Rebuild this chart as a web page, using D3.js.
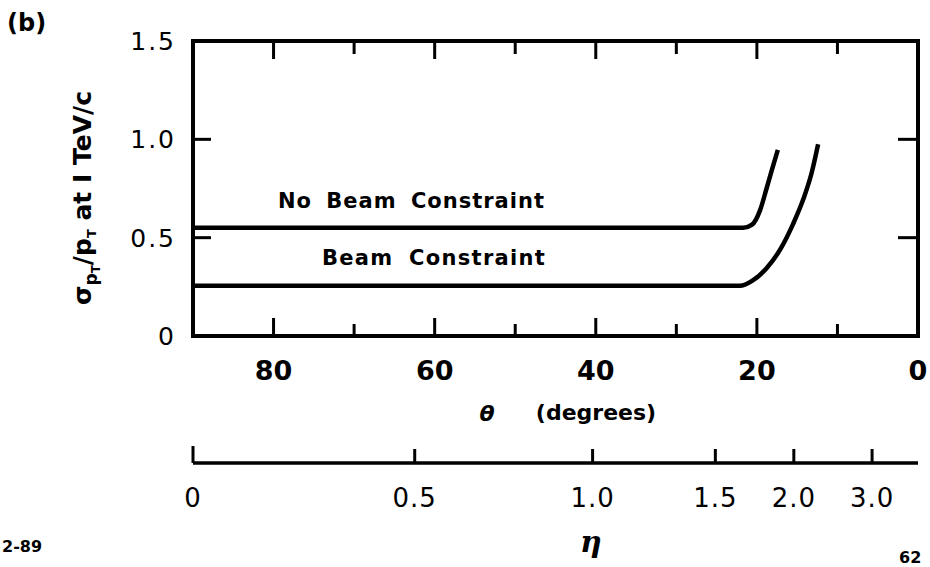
<!DOCTYPE html>
<html>
<head>
<meta charset="utf-8">
<script src="https://cdn.jsdelivr.net/npm/d3@7"></script>
<style>
  body { margin: 0; background: #fff; }
  svg { display: block; }
  text { font-family: "DejaVu Sans", sans-serif; fill: #000; }
</style>
</head>
<body>
<div id="chart"></div>
<script>
// curve values (theta in degrees, sigma/pT at 1 TeV/c)
var thetaNoBeam = [90, 60, 30, 21.7, 20.6, 19.6, 18.8, 18.1, 17.4];
var sigmaNoBeam = [0.55, 0.55, 0.55, 0.55, 0.566, 0.64, 0.75, 0.85, 0.946];
var thetaBeam = [90, 60, 30, 22.1, 20.6, 18.8, 17.1, 15.5, 14.2, 13.2, 12.4];
var sigmaBeam = [0.255, 0.255, 0.255, 0.255, 0.28, 0.345, 0.44, 0.57, 0.70, 0.83, 0.975];

// tick values
var thetaMajor = [80, 60, 40, 20, 0];
var thetaMinor = [70, 50, 30, 10];
var sigmaTicks = [0, 0.5, 1.0, 1.5];
var sigmaLabels = ["0", "0.5", "1.0", "1.5"];
var etaTicks = [0, 0.5, 1.0, 1.5, 2.0, 3.0];
var etaLabels = ["0", "0.5", "1.0", "1.5", "2.0", "3.0"];

var width = 930,
    height = 567;
// plot frame edges (window.top is reserved, so prefixed names)
var pLeft = 193, pRight = 918, pTop = 41, pBottom = 336;

var svg = d3.select("#chart").append("svg")
    .attr("width", width)
    .attr("height", height);

var x = d3.scaleLinear().domain([90, 0]).range([pLeft, pRight]);
var y = d3.scaleLinear().domain([0, 1.5]).range([pBottom, pTop]);

// eta -> theta (degrees)
function etaToTheta(eta) {
    return 2 * Math.atan(Math.exp(-eta)) * 180 / Math.PI;
}

// frame
svg.append("rect")
    .attr("x", pLeft).attr("y", pTop)
    .attr("width", pRight - pLeft).attr("height", pBottom - pTop)
    .attr("fill", "none").attr("stroke", "#000").attr("stroke-width", 4);

// inward ticks on all four sides
function tickLines(values, len, side) {
    var horiz = side == "top" || side == "bottom";
    svg.append("g").selectAll("line")
        .data(values)
        .enter().append("line")
        .attr("x1", function(d) { return horiz ? x(d) : (side == "left" ? pLeft : pRight); })
        .attr("x2", function(d) { return horiz ? x(d) : (side == "left" ? pLeft + len : pRight - len); })
        .attr("y1", function(d) { return !horiz ? y(d) : (side == "top" ? pTop : pBottom); })
        .attr("y2", function(d) { return !horiz ? y(d) : (side == "top" ? pTop + len : pBottom - len); })
        .attr("stroke", "#000").attr("stroke-width", 3);
}
tickLines(thetaMajor.slice(0, 4), 18, "top");
tickLines(thetaMinor, 13, "top");
tickLines(thetaMajor.slice(0, 4), 18, "bottom");
tickLines(thetaMinor, 12, "bottom");
tickLines([0.5, 1.0], 18, "left");
tickLines([0.5, 1.0], 20, "right");

// theta tick labels
svg.append("g").selectAll("text")
    .data(thetaMajor)
    .enter().append("text")
    .attr("x", function(d) { return x(d); })
    .attr("y", 380)
    .attr("text-anchor", "middle")
    .style("font-size", "27px").style("font-weight", "bold")
    .text(function(d) { return d; });

// sigma tick labels
svg.append("g").selectAll("text")
    .data(sigmaTicks)
    .enter().append("text")
    .attr("x", 176)
    .attr("y", function(d) { return y(d) + 9; })
    .attr("text-anchor", "end")
    .style("font-size", "25px").style("letter-spacing", "2px")
    .text(function(d, i) { return sigmaLabels[i]; });

// curves
var line = d3.line()
    .x(function(d) { return x(d[0]); })
    .y(function(d) { return y(d[1]); })
    .curve(d3.curveMonotoneX);

svg.append("path")
    .datum(d3.zip(thetaNoBeam, sigmaNoBeam))
    .attr("d", line)
    .attr("fill", "none").attr("stroke", "#000").attr("stroke-width", 4.5);

svg.append("path")
    .datum(d3.zip(thetaBeam, sigmaBeam))
    .attr("d", line)
    .attr("fill", "none").attr("stroke", "#000").attr("stroke-width", 4.5);

// curve labels
svg.append("text")
    .attr("x", 278).attr("y", 208)
    .style("font-size", "21px").style("font-weight", "bold")
    .style("letter-spacing", "1px").style("word-spacing", "6px")
    .text("No Beam Constraint");

svg.append("text")
    .attr("x", 322).attr("y", 265)
    .style("font-size", "21px").style("font-weight", "bold")
    .style("letter-spacing", "1.3px").style("word-spacing", "7px")
    .text("Beam Constraint");

// y axis title
var ytitle = svg.append("text")
    .attr("transform", "translate(91,198) rotate(-90)")
    .attr("text-anchor", "middle")
    .style("font-size", "25px").style("font-weight", "bold");
ytitle.append("tspan").text("σ");
ytitle.append("tspan").attr("dy", 6).style("font-size", "17px").text("p");
ytitle.append("tspan").attr("dy", 3).style("font-size", "12px").text("T");
ytitle.append("tspan").attr("dy", -9).text("/p");
ytitle.append("tspan").attr("dy", 5).style("font-size", "13px").text("T");
ytitle.append("tspan").attr("dy", -5).text(" at I TeV/c");

// x axis title
svg.append("text")
    .attr("x", 487).attr("y", 421)
    .attr("text-anchor", "middle")
    .style("font-size", "22px").style("font-weight", "bold").style("font-style", "italic")
    .text("θ");
svg.append("text")
    .attr("x", 596).attr("y", 420)
    .attr("text-anchor", "middle")
    .style("font-size", "22px").style("font-weight", "bold")
    .text("(degrees)");

// eta axis, placed through the theta scale
var etaY = 463;
svg.append("line")
    .attr("x1", pLeft).attr("x2", pRight)
    .attr("y1", etaY).attr("y2", etaY)
    .attr("stroke", "#000").attr("stroke-width", 3.5);

svg.append("g").selectAll("line")
    .data(etaTicks)
    .enter().append("line")
    .attr("x1", function(d) { return x(etaToTheta(d)); })
    .attr("x2", function(d) { return x(etaToTheta(d)); })
    .attr("y1", etaY)
    .attr("y2", function(d, i) { return etaY - (i == 0 ? 17 : 14); })
    .attr("stroke", "#000").attr("stroke-width", 3);

svg.append("g").selectAll("text")
    .data(etaTicks)
    .enter().append("text")
    .attr("x", function(d) { return x(etaToTheta(d)); })
    .attr("y", 507)
    .attr("text-anchor", "middle")
    .style("font-size", "26px").style("letter-spacing", "1px")
    .text(function(d, i) { return etaLabels[i]; });

svg.append("text")
    .attr("x", 591).attr("y", 552)
    .attr("text-anchor", "middle")
    .style("font-family", "'DejaVu Serif', serif")
    .style("font-size", "30px").style("font-style", "italic").style("font-weight", "bold")
    .text("η");

// panel letter and figure marks
svg.append("text")
    .attr("x", 7).attr("y", 31)
    .style("font-size", "24px").style("font-weight", "bold")
    .text("(b)");
svg.append("text")
    .attr("x", 2).attr("y", 552)
    .style("font-size", "16px").style("font-weight", "bold")
    .text("2-89");
svg.append("text")
    .attr("x", 899).attr("y", 563)
    .style("font-size", "16px").style("font-weight", "bold")
    .text("62");
</script>
</body>
</html>
